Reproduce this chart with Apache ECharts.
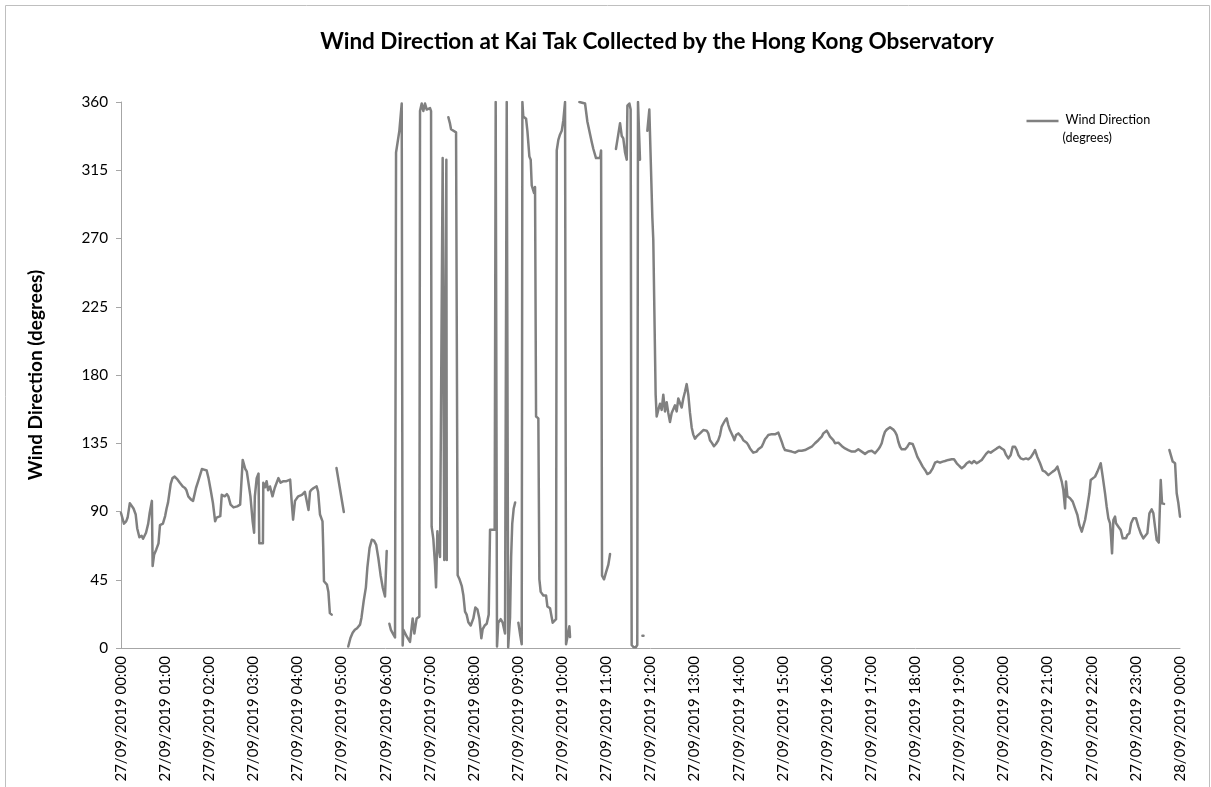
<!DOCTYPE html>
<html>
<head>
<meta charset="utf-8">
<script src="https://cdn.jsdelivr.net/npm/echarts@6/dist/echarts.min.js"></script>
<style>
  html, body { margin: 0; padding: 0; background: #ffffff; }
  #chart { width: 1211px; height: 787px; }
</style>
</head>
<body>
<div id="chart"></div>
<script>
// Kai Tak wind direction, 27/09/2019. Time is minutes after midnight; null marks a gap in the record.
const minutes = [
  0, 2, 4, 7, 9, 12, 14.5, 17, 20, 22, 25, 28, 30, 34, 37, 39, 42, 43, 45, 48, 51, 53, 57, 60, 62, 64,
  67.5, 70, 73, 77, 80, 84, 87, 89, 91.5, 95, 98, 102, 105, 110, 113, 116.5, 119, 122, 125, 128, 130, 132,
  135, 137, 139, 141, 144, 146, 149, 153, 155, 158, 162, 164, 165.5, 169, 171, 173, 176, 179, 181, 182,
  184.5, 187, 188, 193, 193.5, 196, 198, 200, 202.6, 206, 209, 214, 217, 221, 225, 230, 232, 234, 236.6,
  241, 246, 250, 255, 257, 259, 262, 266, 268, 270.6, 274, 275, 276, 280, 282, 284, 286.5, 289,
  293, 303, 306,
  309, 312, 315, 318, 321, 325, 327, 330, 333, 335, 338, 341, 344, 347, 350, 353, 356, 359, 360.3, 361.3, 363,
  364.9, 367, 370.3, 372.6, 374, 378.5, 381.7, 383, 384, 386, 388.5, 393, 396.6, 398.9, 402, 405.7, 406.6,
  408.9, 411.1, 413.4, 415.7, 420.2, 421.6, 422.4, 424.7, 427, 428.4, 430.2, 432, 433.8, 436, 437.4, 438.6,
  439.6, 441.4, 442.4, 443, 444,
  445.1, 447.4, 448.8, 451, 455.6, 457.8, 460, 463.3, 465.5, 467.8, 470, 472.3, 475.5, 479.1, 481.8, 484.6,
  487.3, 490, 491.8, 494.5, 497.3, 500, 501.8, 504, 508.1, 509.5, 511.3, 513, 516.3, 519, 522.2, 524.5,
  525.5, 526.5, 527.5, 529, 530.5, 532, 534, 536, 538,
  540.3, 543, 544.9, 545.8, 547, 550.8, 552.6, 555.3, 557.1, 558.5, 560.7, 561.6, 563, 564.4, 567.5, 568.9,
  570.7, 574.3, 578, 579.8, 583.4, 585.7, 587, 588.8, 591.6, 592.5, 594.7, 597, 599.3, 601.5, 603.8, 605.2,
  607, 609.7, 610.6, 615,
  623.3, 631, 634.2, 636.9, 640, 642.3, 645.9, 647.8, 651.4, 652.8, 654.1, 656.8, 659.6, 662.7, 665, 669,
  673, 675, 678.6, 680.9, 683, 685.4, 687.7, 688.6, 691.3, 693, 694.4, 697, 700, 702, 703, 705.7, 707,
  709, 710.5, 712,
  715.7, 718.4, 720.2, 722.5, 723.8, 726, 727, 728.4, 730.6, 732.9, 735.2, 737.4, 739.7, 742, 744.2, 746.5,
  748.8, 751, 753.3, 755.6, 757.8, 760.1, 762.4, 764.6, 766.9, 769.2, 771.4, 773.7, 776, 778.2, 780.5, 782.8,
  785, 787.3, 789.6, 791.8, 794.1, 796.4, 798.6, 800.9, 803.2, 806.3, 809, 812.2, 814.5, 816.8, 819, 821.3,
  823.6, 825.8, 828.1, 830.4, 832.6, 834, 836.3, 839.4, 841.7, 844, 846.2, 848.5, 850.8, 853, 855.3, 857.6,
  859.8, 862.1, 864.4, 866.6, 868.9, 871.2, 873.4, 875.7, 878, 880.2, 882.5, 884.8, 887, 889.3, 891.6, 893.8,
  896.1, 898.4, 900.6, 902.9, 905.2, 907.4, 909.7, 912, 914.2, 916.5, 918.8, 921, 923.3, 925.6, 927.8, 930.1,
  932.4, 934.6, 936.9, 939.2, 941.4, 943.7, 946, 948.2, 950.5, 952.8, 955, 957.3, 959.6, 961.8, 964.1, 966.4,
  968.6, 970.9, 973.2, 975.4, 977.7, 980, 982.2, 984.5, 986.8, 989, 991.3, 993.6, 995.8, 998.1, 1000.4,
  1002.6, 1004.9, 1007.2, 1009.4, 1011.7, 1014, 1016.2, 1018.5, 1020.8, 1023, 1025.3, 1027.6, 1029.8, 1032.1,
  1034.4, 1036.6, 1038.9, 1041.2, 1043.4, 1045.7, 1048, 1050.2, 1052.5, 1054.8, 1057, 1059.3, 1061.6, 1066.1,
  1069.3, 1072, 1076.5, 1079.7, 1082.9, 1086.5, 1090.1, 1093.3, 1096.5, 1100.1, 1103.7, 1106.9, 1110, 1113.7,
  1117.3, 1120.5, 1125, 1129.6, 1132.7, 1136.4, 1140, 1143.2, 1146.3, 1150, 1153.6, 1156.8, 1159.9, 1163.6,
  1167.2, 1170.4, 1172.6, 1176.3, 1179.4, 1182.6, 1186.2, 1190.8, 1194.4, 1197.5, 1200.7, 1203.5, 1206.6,
  1209.8, 1212.5, 1215.7, 1218, 1220.2, 1223.4, 1227, 1230.6, 1233.8, 1237, 1240.6, 1242.9, 1246, 1249.7,
  1253.3, 1256.5, 1258.8, 1261, 1263.3, 1266.9, 1270.1, 1273.3, 1276, 1279.2, 1281.4, 1283.7, 1285, 1286.9,
  1290.5, 1294.1, 1297.3, 1300.5, 1303.2, 1306.4, 1308.6, 1310.9, 1314, 1316.8, 1318.6, 1321.3, 1324.5,
  1327.7, 1330.4, 1332.2, 1334.9, 1338.1, 1340.3, 1342.6, 1344.9, 1346.2, 1347.6, 1349.4, 1351.7, 1353,
  1356.2, 1359.4, 1362.1, 1363.9, 1366.6, 1368.4, 1371.2, 1373.5, 1376.6, 1380.2, 1383.4, 1386.6, 1390.2,
  1392.9, 1395.6, 1398.4, 1401.5, 1403.8, 1406, 1408.3, 1411.1, 1412, 1413.8, 1415.6, 1418.3, 1422,
  1425.6, 1427.4, 1430.1, 1433.3, 1435.5, 1437.8, 1440
];

const direction = [
  89, 88, 82, 83.5, 86, 95.5, 96, 92, 88, 79, 73, 74, 72, 76, 82, 89, 97, 54, 61.5, 65, 69, 81, 82, 87, 92, 96,
  108, 112, 113, 111, 109, 106.5, 105.5, 104, 100, 98, 97, 105.5, 110, 118, 117.6, 117, 112, 104, 95.6, 83.5, 86, 86,
  87, 101, 101, 100, 101.5, 100, 94.5, 92.7, 92, 93.4, 94.5, 94, 124, 118, 116.5, 110, 100, 83.5, 76, 100,
  112, 115, 69, 69, 109, 106, 110, 104, 106.5, 100, 105.5, 112, 109, 110, 110, 111, 97, 84.6, 97,
  100, 101, 103, 91, 103, 104.4, 105.5, 106.6, 103, 88, 83.5, 66, 44, 41.8, 37, 23, 22, null,
  118.7, 89.7, null,
  1, 6.6, 10, 12, 13, 15.4, 20, 31, 40, 53, 66, 71.4, 70.8, 68, 59, 48, 39.6, 34, 33, 64, null,
  16, 12, 9, 7, 326.7, 341, 359, 1.7, 12, 12, 7.6, 4, 19.5, 9.5, 19.5, 20.7, 354,
  359, 354, 359, 355, 356, 354, 80, 72, 55, 40, 77, 66, 60, 60, 323, 322,
  58, 57, 322, 58, null,
  350, 345.7, 342, 341, 340, 48, 45.7, 41, 35, 24, 22, 17, 14.8, 19.5, 26.7, 25.5,
  19.5, 6.4, 12.4, 14.8, 16, 22, 78, 78, 78, 360, 1, 16.7, 19, 16.7, 9.5, 360,
  359, 0.5, 0.5, 20, 60, 82, 92, 96, null,
  16.7, 8, 2.4, 360, 350.5, 349, 341, 324, 322, 305, 304, 300, 304, 152.6, 151.4, 45.3,
  37, 34.6, 34.6, 27.4, 26.2, 25, 16.7, 15.5, 19, 328, 335, 338.6, 341, 348, 360, 2.4,
  3.6, 14.3, 7.2, null,
  360, 359, 347, 346, 333.8, 329, 323, 322, 323, 328, 47.7, 45.3, 50, 55, 62, null,
  329, 335, 346, 337.6, 336, 326.7, 322, 357.6, 359, 355, 2, 0.5, 0.5, 2, 360, 322, null,
  8, 8, null,
  341, 355, 355, 284, 269, 268, 167, 152.6, 157, 161, 157, 167, 156, 162, 155, 149,
  155, 156, 160, 156, 164.5, 165.7, 158.6, 164.5, 169, 174, 167, 155, 145.4, 140.7, 138, 139.5,
  140.7, 141.5, 142.6, 143.7, 142.6, 143.3, 141.5, 137, 135.4, 133, 134.5, 137, 140.4, 146, 148, 150,
  151.4, 147, 143.7, 142.6, 139, 137, 140.4, 141.5, 142, 139, 137, 136.7, 135.4, 133.8, 131.6, 130.5,
  128.8, 129.5, 129.5, 131, 131.6, 132.7, 135, 137.6, 139, 140.4, 140.4, 141, 141.5, 140.9, 141.5, 142,
  139, 136, 132.7, 130.5, 130.5, 130, 130, 129.5, 128.8, 128.8, 129.5, 130, 130.5, 130, 128.8, 130.5,
  131.6, 131.6, 132.3, 132.7, 133.8, 135, 135.4, 137, 138.2, 139.3, 141.5, 142.6, 143.3, 141.5, 139.3, 138.2,
  137, 135, 133.8, 135.4, 135, 133.2, 132.3, 131.6, 131, 130.5, 130, 129.5, 128.8, 129.5, 130.5,
  131, 131.6, 129.5, 128.8, 128, 128.4, 129.5, 130.5, 130, 129.5, 128.4, 129.5, 131, 132.7,
  135, 139.3, 142.6, 144, 144.8, 145.5, 146, 144, 142.6, 140.4, 136, 132.7, 131, 131,
  132.7, 135, 134.5, 130.5, 126, 122.9, 119.6, 117.4, 114.7, 115.6, 118.5, 122.2, 122.9, 122.2,
  122.9, 123.3, 124, 124.4, 124.4, 121.8, 120, 118.5, 119.6, 121.8, 122.9, 121.8, 123.3, 121.8,
  122.9, 124, 124.4, 128, 129.5, 128.8, 130, 131.6, 132.7, 131.6, 130.5, 127.3, 125,
  127.3, 132.7, 132.7, 130.5, 127.3, 125, 124.4, 125, 124.4, 125.7, 128.4, 130.5, 126, 121.8,
  117, 116.3, 117.4, 114, 115.2, 116.3, 117.4, 119.6, 115.2, 109.7, 104, 92, 109.7, 100,
  98.7, 96.5, 92, 87.7, 81, 76.7, 75.6, 84.4, 93.2, 102, 110.8, 111.9, 113,
  116.3, 119.6, 121.8, 113, 102, 93.2, 85.5, 82.2, 73.4, 62.4, 84.4, 86.6, 82.2,
  80, 77.8, 72.3, 73.4, 72.3, 74.5, 75.6, 82.2, 85.5, 85.5, 80, 75.6, 72.3,
  71.2, 75.6, 88.8, 91.4, 88.8, 80, 71.2, 69.5, 69, 110.8, 95.4, 95, null,
  130.5, 129.5, 122.9, 121.8, 102, 95.4, 86.6
];

// Hourly tick labels along the time axis
const hourLabels = [
  '27/09/2019 00:00', '27/09/2019 01:00', '27/09/2019 02:00', '27/09/2019 03:00', '27/09/2019 04:00',
  '27/09/2019 05:00', '27/09/2019 06:00', '27/09/2019 07:00', '27/09/2019 08:00', '27/09/2019 09:00',
  '27/09/2019 10:00', '27/09/2019 11:00', '27/09/2019 12:00', '27/09/2019 13:00', '27/09/2019 14:00',
  '27/09/2019 15:00', '27/09/2019 16:00', '27/09/2019 17:00', '27/09/2019 18:00', '27/09/2019 19:00',
  '27/09/2019 20:00', '27/09/2019 21:00', '27/09/2019 22:00', '27/09/2019 23:00', '28/09/2019 00:00'
];

const seriesName = 'Wind Direction (degrees)';
const lineColor = '#808080';
const textFont = 'Lato, "Open Sans", sans-serif';

const points = minutes.map((m, i) => [m, direction[i]]);

const chart = echarts.init(document.getElementById('chart'), null, { renderer: 'canvas' });

chart.setOption({
  backgroundColor: '#ffffff',
  animation: false,
  title: {
    text: 'Wind Direction at Kai Tak Collected by the Hong Kong Observatory',
    left: 652,
    textAlign: 'center',
    top: 25,
    textStyle: { fontFamily: textFont, fontSize: 22.5, fontWeight: 'bold', color: '#000000' }
  },
  grid: { left: 121, right: 31, top: 102, bottom: 139, containLabel: false },
  xAxis: {
    type: 'value',
    min: 0,
    max: 1440,
    interval: 60,
    splitLine: { show: false },
    axisLine: { show: true, lineStyle: { color: '#a6a6a6', width: 1 } },
    axisTick: { show: false },
    axisLabel: {
      rotate: 90,
      margin: 8,
      fontFamily: textFont,
      fontSize: 15,
      color: '#000000',
      formatter: v => hourLabels[Math.round(v / 60)]
    }
  },
  yAxis: {
    type: 'value',
    min: 0,
    max: 360,
    interval: 45,
    name: 'Wind Direction (degrees)',
    nameLocation: 'middle',
    nameGap: 76,
    nameRotate: 90,
    nameTextStyle: { fontFamily: textFont, fontSize: 19, fontWeight: 'bold', color: '#000000' },
    splitLine: { show: false },
    axisLine: { show: true, lineStyle: { color: '#a6a6a6', width: 1 } },
    axisTick: { show: true, inside: false, length: 5, lineStyle: { color: '#a6a6a6' } },
    axisLabel: { fontFamily: textFont, fontSize: 15.3, color: '#000000', margin: 13 }
  },
  series: [{
    name: seriesName,
    type: 'line',
    data: points,
    showSymbol: false,
    connectNulls: false,
    lineStyle: { color: lineColor, width: 2.5, join: 'round', cap: 'round' },
    itemStyle: { color: lineColor }
  }],
  graphic: [
    {
      type: 'rect',
      left: 3, top: 3,
      shape: { width: 1204, height: 800 },
      style: { fill: 'none', stroke: '#bfbfbf', lineWidth: 1 },
      silent: true
    },
    {
      type: 'group',
      left: 1024,
      top: 113,
      children: [
        { type: 'line', shape: { x1: 0, y1: 9, x2: 32, y2: 9 }, style: { stroke: lineColor, lineWidth: 2.5 } },
        { type: 'text', x: 39, y: 1, style: { text: 'Wind Direction', font: '12.6px ' + textFont, fill: '#000000' } },
        { type: 'text', x: 36, y: 19, style: { text: '(degrees)', font: '12.6px ' + textFont, fill: '#000000' } }
      ]
    }
  ]
});
</script>
</body>
</html>
